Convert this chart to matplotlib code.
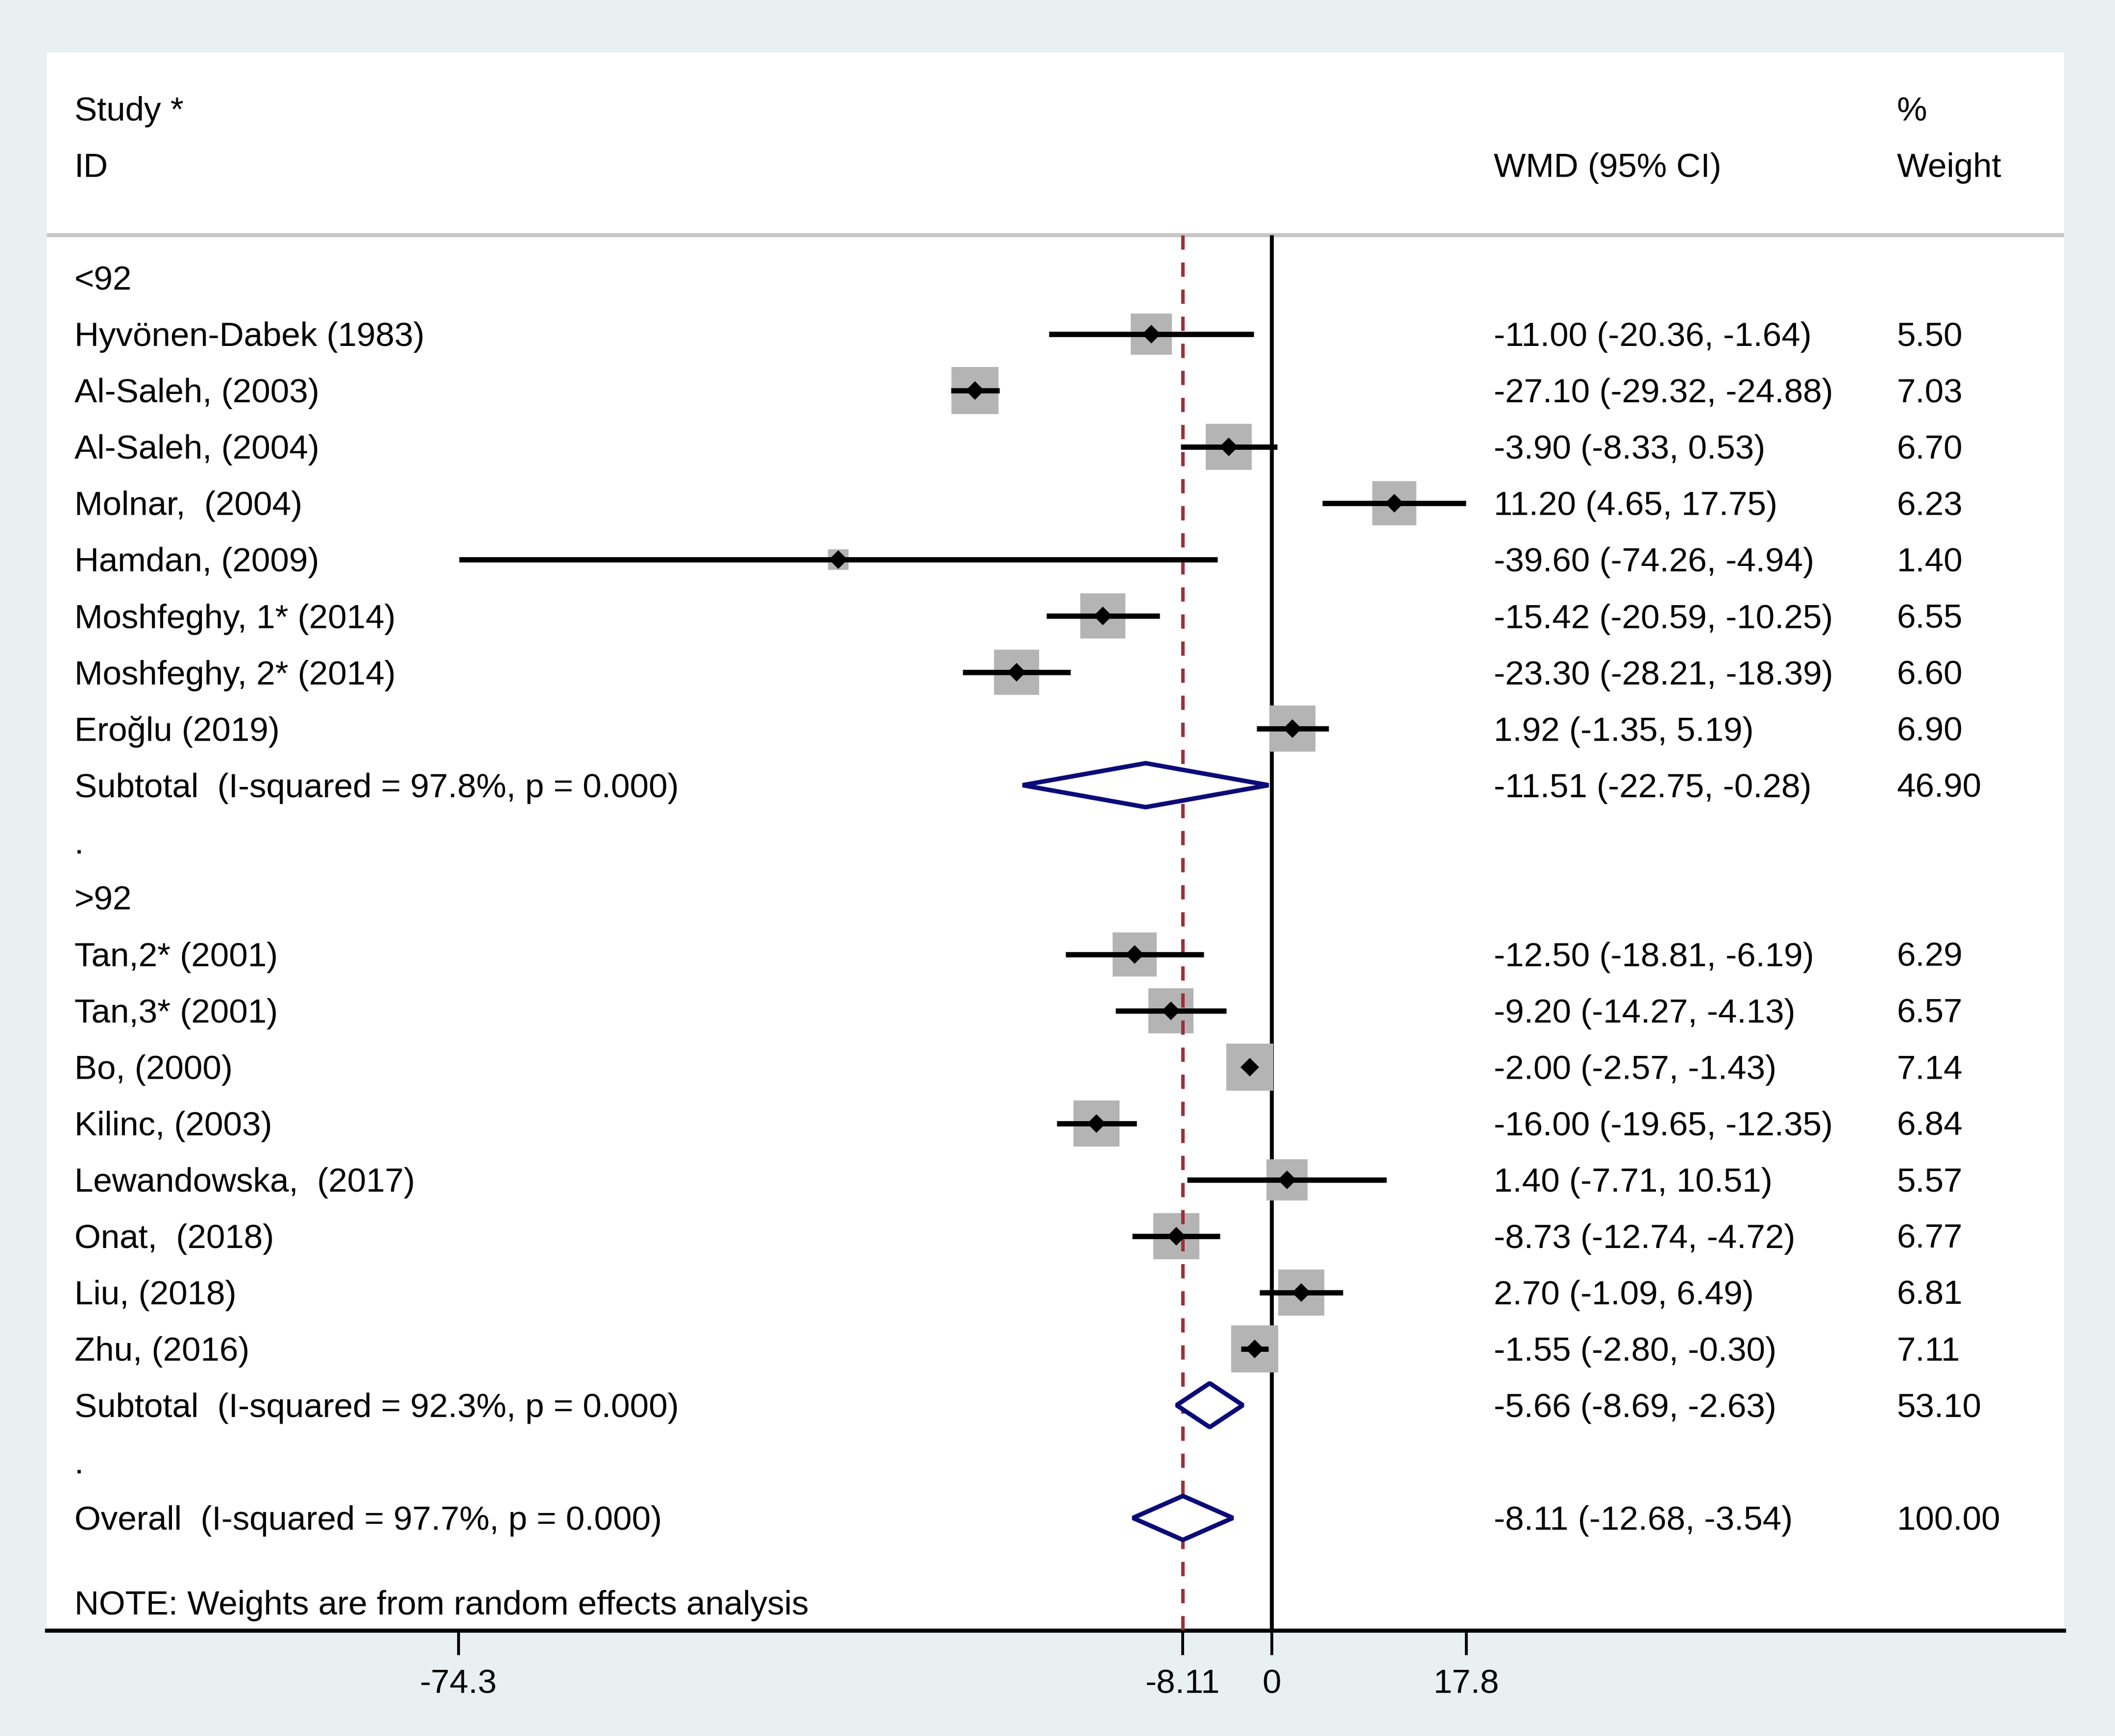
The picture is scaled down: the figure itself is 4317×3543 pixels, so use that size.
import matplotlib.pyplot as plt
import numpy as np

plt.rcParams['font.family'] = ['Liberation Sans', 'DejaVu Sans']

# Study-level data
names_a = ['Hyvönen-Dabek (1983)', 'Al-Saleh, (2003)', 'Al-Saleh, (2004)', 'Molnar,  (2004)',
           'Hamdan, (2009)', 'Moshfeghy, 1* (2014)', 'Moshfeghy, 2* (2014)', 'Eroğlu (2019)']
est_a = [-11.00, -27.10, -3.90, 11.20, -39.60, -15.42, -23.30, 1.92]
lo_a = [-20.36, -29.32, -8.33, 4.65, -74.26, -20.59, -28.21, -1.35]
hi_a = [-1.64, -24.88, 0.53, 17.75, -4.94, -10.25, -18.39, 5.19]
w_a = [5.50, 7.03, 6.70, 6.23, 1.40, 6.55, 6.60, 6.90]

names_b = ['Tan,2* (2001)', 'Tan,3* (2001)', 'Bo, (2000)', 'Kilinc, (2003)',
           'Lewandowska,  (2017)', 'Onat,  (2018)', 'Liu, (2018)', 'Zhu, (2016)']
est_b = [-12.50, -9.20, -2.00, -16.00, 1.40, -8.73, 2.70, -1.55]
lo_b = [-18.81, -14.27, -2.57, -19.65, -7.71, -12.74, -1.09, -2.80]
hi_b = [-6.19, -4.13, -1.43, -12.35, 10.51, -4.72, 6.49, -0.30]
w_b = [6.29, 6.57, 7.14, 6.84, 5.57, 6.77, 6.81, 7.11]

pooled_labels = ['Subtotal  (I-squared = 97.8%, p = 0.000)',
                 'Subtotal  (I-squared = 92.3%, p = 0.000)',
                 'Overall  (I-squared = 97.7%, p = 0.000)']
pooled_est = [-11.51, -5.66, -8.11]
pooled_lo = [-22.75, -8.69, -12.68]
pooled_hi = [-0.28, -2.63, -3.54]
pooled_w = [46.90, 53.10, 100.00]

tick_vals = [-74.3, -8.11, 0, 17.8]
tick_labels = ['-74.3', '-8.11', '0', '17.8']

# row layout
rows_a = list(range(1, 9))
rows_b = list(range(12, 20))
pooled_rows = [9, 20, 22]

bg = '#e8f0f2'
fig = plt.figure(figsize=(4317 / 300, 3543 / 300), dpi=300, facecolor=bg)
ax = fig.add_axes([96 / 4317, 215 / 3543, 4117 / 4317, 3221 / 3543])
ax.set_facecolor('white')
ax.set_xlim(-111.89, 72.40)
ax.set_ylim(24, -4)

fs = 16.6
xt_left, xt_ci, xt_w = -109.38, 20.30, 57.12
base = 0.21


def row_text(x, y, s):
    ax.text(x, y + base, s, fontsize=fs, va='baseline', ha='left', color='black')


# header
row_text(xt_left, -3, 'Study *')
row_text(xt_left, -2, 'ID')
row_text(xt_ci, -2, 'WMD (95% CI)')
row_text(xt_w, -3, '%')
row_text(xt_w, -2, 'Weight')
ax.axhline(-0.757, color='#c6c6c6', lw=2.0, zorder=1)

# reference lines
ax.plot([0, 0], [-0.757, 24], color='black', lw=1.9, zorder=2, solid_capstyle='butt')
ax.plot([pooled_est[2]] * 2, [-0.757, 24], color='#9c2f3b', lw=1.7,
        dashes=(4.1, 3.7), zorder=4)

# group labels
row_text(xt_left, 0, '<92')
row_text(xt_left, 10, '.')
row_text(xt_left, 11, '>92')
row_text(xt_left, 21, '.')

k = 22.9 / np.sqrt(7.03)
for names, est, lo, hi, w, rows in [(names_a, est_a, lo_a, hi_a, w_a, rows_a),
                                    (names_b, est_b, lo_b, hi_b, w_b, rows_b)]:
    for n, e, l, h, wt, r in zip(names, est, lo, hi, w, rows):
        ax.plot(e, r, marker='s', markersize=k * np.sqrt(wt), color='#b4b4b4',
                markeredgewidth=0, linestyle='none', zorder=3)
        ax.plot([l, h], [r, r], color='black', lw=2.6, solid_capstyle='butt', zorder=5)
        ax.plot(e, r, marker='D', markersize=6.5, color='black',
                markeredgewidth=0, linestyle='none', zorder=6)
        row_text(xt_left, r, n)
        row_text(xt_ci, r, f'{e:.2f} ({l:.2f}, {h:.2f})')
        row_text(xt_w, r, f'{wt:.2f}')

half = 0.39
for lab, e, l, h, wt, r in zip(pooled_labels, pooled_est, pooled_lo, pooled_hi,
                               pooled_w, pooled_rows):
    ax.fill([l, e, h, e, l], [r, r - half, r, r + half, r], facecolor='white',
            edgecolor='#0b0b78', lw=2.2, zorder=5, joinstyle='bevel')
    row_text(xt_left, r, lab)
    row_text(xt_ci, r, f'{e:.2f} ({l:.2f}, {h:.2f})')
    row_text(xt_w, r, f'{wt:.2f}')

row_text(xt_left, 23.5, 'NOTE: Weights are from random effects analysis')

# axis
for side in ['top', 'left', 'right']:
    ax.spines[side].set_visible(False)
ax.spines['bottom'].set_linewidth(2.0)
ax.set_yticks([])
ax.set_xticks(tick_vals)
ax.set_xticklabels(tick_labels, fontsize=fs)
ax.tick_params(axis='x', direction='out', length=12, width=1.4, pad=6.5)

fig.savefig('out.png', dpi=300, facecolor=bg)
plt.close()
